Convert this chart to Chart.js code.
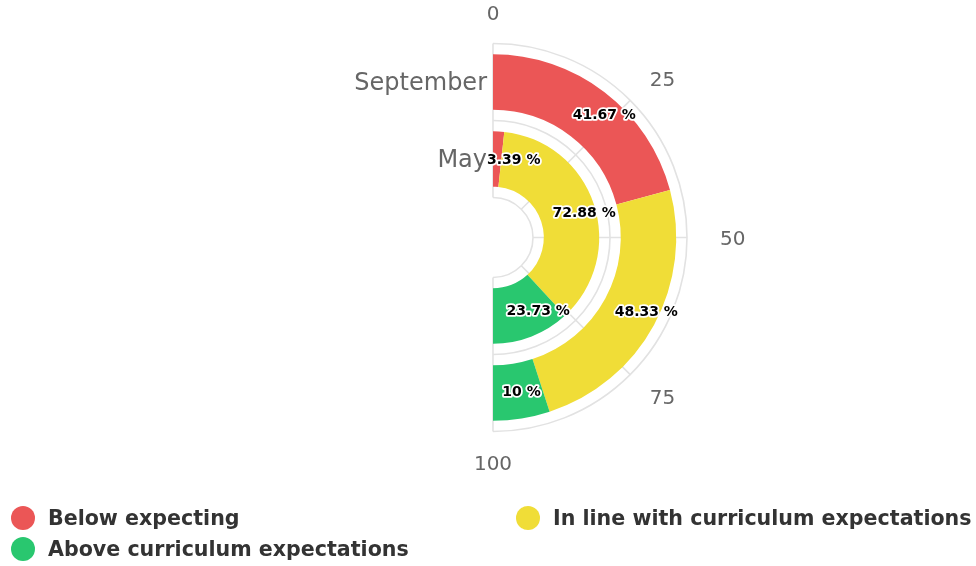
<!DOCTYPE html>
<html>
<head>
<meta charset="utf-8">
<title>Progress by term</title>
<script src="https://cdn.jsdelivr.net/npm/chart.js@4.4.1/dist/chart.umd.min.js"></script>
<style>
    html, body { margin: 0; padding: 0; background: #fff; }
    .wrap { position: relative; width: 976px; height: 566px; }
    #progressChart { position: absolute; left: 0; top: 0; }
    .legend {
        position: absolute; left: 11px; top: 505px;
        display: grid; grid-template-columns: 505px auto; row-gap: 5px;
        font: bold 20.6px "DejaVu Sans", sans-serif; color: #333;
    }
    .legend-item { display: flex; align-items: center; height: 26px; white-space: nowrap; }
    .legend-dot { width: 24px; height: 24px; border-radius: 50%; margin-right: 13px; flex: none; }
</style>
</head>
<body>
<div class="wrap">
    <canvas id="progressChart" width="976" height="566"></canvas>
    <div class="legend" id="legend"></div>
</div>
<script>
// Terms (one ring each, outer first)
const terms = ['September', 'May'];
// Attainment bands (segments inside every ring)
const bands = ['Below expecting', 'In line with curriculum expectations', 'Above curriculum expectations'];
const bandColors = ['#eb5656', '#f0dd37', '#29c76f'];
const septemberValues = [41.67, 48.33, 10];
const mayValues = [3.39, 72.88, 23.73];
// Percent ticks round the half circle
const angleTicks = [0, 25, 50, 75, 100];

const gridColor = '#e2e2e2';

// Grid, tick labels and term labels for the half-circle pane
const polarPane = {
    id: 'polarPane',
    afterDatasetsUpdate(chart) {
        // keep each ring inside its band with some room either side
        chart.data.datasets.forEach((ds, i) => {
            const meta = chart.getDatasetMeta(i);
            const ctrl = meta.controller;
            const pad = (ctrl.outerRadius - ctrl.innerRadius) * 0.14;
            meta.data.forEach(arc => {
                arc.innerRadius = ctrl.innerRadius + pad;
                arc.outerRadius = ctrl.outerRadius - pad;
            });
        });
    },
    beforeDatasetsDraw(chart) {
        const ctx = chart.ctx;
        const metas = chart.data.datasets.map((d, i) => chart.getDatasetMeta(i));
        const first = metas[0].data[0];
        const last = metas[0].data[metas[0].data.length - 1];
        const cx = first.x, cy = first.y;
        const start = first.startAngle, end = last.endAngle;
        const radii = [metas[0].controller.outerRadius].concat(metas.map(m => m.controller.innerRadius));
        const rMin = Math.min(...radii), rMax = Math.max(...radii);

        ctx.save();
        ctx.strokeStyle = gridColor;
        ctx.lineWidth = 1.6;
        radii.forEach(r => {
            ctx.beginPath();
            ctx.arc(cx, cy, r, start, end);
            ctx.stroke();
        });
        angleTicks.forEach(v => {
            const a = start + (end - start) * v / 100;
            ctx.beginPath();
            ctx.moveTo(cx + rMin * Math.cos(a), cy + rMin * Math.sin(a));
            ctx.lineTo(cx + rMax * Math.cos(a), cy + rMax * Math.sin(a));
            ctx.stroke();
        });

        // tick labels outside the pane
        ctx.font = '20px "DejaVu Sans", sans-serif';
        ctx.fillStyle = '#666';
        ctx.textAlign = 'center';
        ctx.textBaseline = 'middle';
        angleTicks.forEach(v => {
            const a = start + (end - start) * v / 100;
            const ux = Math.cos(a), uy = Math.sin(a);
            const text = String(v);
            const w = ctx.measureText(text).width;
            const r = rMax + 23;
            const x = cx + r * ux + (w / 2 + 10) * ux;
            const y = cy + r * uy + 8 * uy + 2;
            ctx.fillText(text, x, y);
        });

        // term names beside the start of each ring
        ctx.font = '24px "DejaVu Sans", sans-serif';
        ctx.textAlign = 'right';
        metas.forEach((m, i) => {
            const mid = (m.controller.innerRadius + m.controller.outerRadius) / 2;
            ctx.fillText(chart.data.datasets[i].label, cx + mid * Math.cos(start) - 6, cy + mid * Math.sin(start) + 2);
        });
        ctx.restore();
    },
    afterDatasetsDraw(chart) {
        const ctx = chart.ctx;
        ctx.save();
        ctx.font = 'bold 14px "DejaVu Sans", sans-serif';
        ctx.textAlign = 'left';
        ctx.textBaseline = 'middle';
        ctx.lineJoin = 'round';
        chart.data.datasets.forEach((ds, i) => {
            const meta = chart.getDatasetMeta(i);
            meta.data.forEach((arc, j) => {
                const text = ds.data[j] + ' %';
                const a = (arc.startAngle + arc.endAngle) / 2;
                const r = (arc.innerRadius + arc.outerRadius) / 2;
                // label starts a little left of the bar's middle point, never left of the axis
                let x = arc.x + r * Math.cos(a) - 15;
                const y = arc.y + r * Math.sin(a) + 1;
                if (x < arc.x - 6) x = arc.x - 6;
                ctx.strokeStyle = '#fff';
                ctx.lineWidth = 3.5;
                ctx.strokeText(text, x, y);
                ctx.fillStyle = '#000';
                ctx.fillText(text, x, y);
            });
        });
        ctx.restore();
    }
};

const ctx = document.getElementById('progressChart').getContext('2d');
const progressChart = new Chart(ctx, {
    type: 'doughnut',
    data: {
        labels: bands,
        datasets: [
            { label: terms[0], data: septemberValues, backgroundColor: bandColors },
            { label: terms[1], data: mayValues, backgroundColor: bandColors }
        ]
    },
    options: {
        responsive: false,
        animation: false,
        rotation: 0,
        circumference: 180,
        radius: 194,
        cutout: 40,
        borderWidth: 0,
        layout: { padding: { left: 300, right: 96, top: 43.5, bottom: 134.5 } },
        plugins: {
            legend: { display: false },
            tooltip: { enabled: false }
        }
    },
    plugins: [polarPane]
});

// Legend in two columns under the chart
const legendEl = document.getElementById('legend');
progressChart.data.labels.forEach((label, i) => {
    const item = document.createElement('div');
    item.className = 'legend-item';
    const dot = document.createElement('span');
    dot.className = 'legend-dot';
    dot.style.background = bandColors[i];
    const text = document.createElement('span');
    text.textContent = label;
    item.appendChild(dot);
    item.appendChild(text);
    legendEl.appendChild(item);
});
</script>
</body>
</html>
